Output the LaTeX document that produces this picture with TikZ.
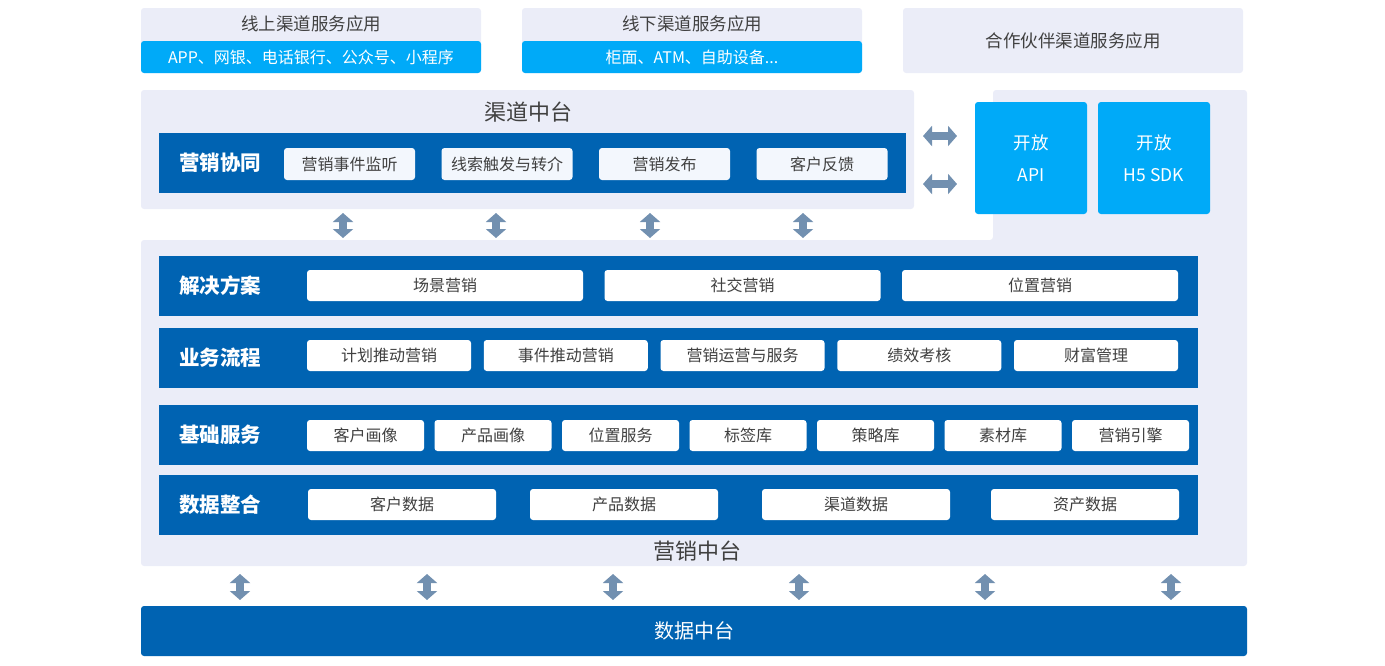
\documentclass[tikz,border=0pt]{standalone}
\usepackage{fontspec}
\setmainfont{Noto Sans CJK SC}
\usepackage{xcolor}
\usepackage{tikz}
\usetikzlibrary{calc, arrows.meta, positioning}
\definecolor{lavender}{HTML}{EBEDF8}
\definecolor{skyblue}{HTML}{00AAF8}
\definecolor{deepblue}{HTML}{0063B2}
\definecolor{arrowgray}{HTML}{7290B0}
\definecolor{txtgray}{HTML}{404040}
\definecolor{paleblue}{HTML}{F3F7FD}
\tikzset{
	x=1pt,
	y=-1pt,
	line width=.75pt,
	panel/.style={
		fill=lavender,
		rounded corners=3pt,
		inner sep=0pt,
		outer sep=0pt
	},
	band/.style={
		fill=deepblue,
		inner sep=0pt,
		outer sep=0pt,
		minimum width=1039pt,
		minimum height=60pt
	},
	tag/.style={
		text=white,
		font=\fontsize{20.5pt}{24pt}\selectfont\bfseries
	},
	cell/.style={
		fill=white,
		rounded corners=3pt,
		inner sep=0pt,
		outer sep=0pt,
		minimum height=31pt,
		text=txtgray,
		font=\fontsize{16pt}{19pt}\selectfont
	},
	caption/.style={
		text=txtgray,
		font=\fontsize{17.5pt}{21pt}\selectfont
	},
	sub/.style={
		text=white,
		font=\fontsize{16pt}{19pt}\selectfont
	},
	heading/.style={
		text=txtgray,
		font=\fontsize{22pt}{26pt}\selectfont
	},
	openbox/.style={
		fill=skyblue,
		rounded corners=3pt,
		inner sep=0pt,
		outer sep=0pt,
		minimum width=112pt,
		minimum height=112pt,
		text=white,
		align=center,
		font=\fontsize{17.5pt}{32pt}\selectfont
	},
	link/.style={
		arrowgray,
		line width=8pt,
		{Triangle[width=20pt,length=9pt]}-{Triangle[width=20pt,length=9pt]}
	}
}

\begin{document}
\begin{tikzpicture}
		\useasboundingbox (0,0) rectangle (1385,665);

		\node[panel, minimum width=340pt, minimum height=65pt] (on) at (311,40.5) {};
		\node[panel, fill=skyblue, minimum width=340pt, minimum height=32pt] (onb) at (311,57) {};
		\node[caption] (ont) at (311,24) {线上渠道服务应用};
		\node[sub] (onc) at (onb) {APP、网银、电话银行、公众号、小程序};

		\node[panel, minimum width=340pt, minimum height=65pt] (off) at (692,40.5) {};
		\node[panel, fill=skyblue, minimum width=340pt, minimum height=32pt] (offb) at (692,57) {};
		\node[caption] (offt) at (692,24) {线下渠道服务应用};
		\node[sub] (offc) at (offb) {柜面、ATM、自助设备...};

		\node[panel, minimum width=340pt, minimum height=65pt] (pt) at (1073,40.5) {};
		\node[caption] (ptt) at (pt) {合作伙伴渠道服务应用};

		\node[panel, minimum width=773pt, minimum height=119pt] (qd) at (527.5,149.5) {};
		\node[heading] (qdt) at (528,112) {渠道中台};
		\node[band, minimum width=747pt] (xt) at (532.5,163) {};
		\node[tag] (xtt) at (220,163) {营销协同};
		\node[cell, fill=paleblue, minimum width=131pt, minimum height=32pt] (x1) at (349.5,164) {营销事件监听};
		\node[cell, fill=paleblue, minimum width=131pt, minimum height=32pt, right=26.5pt of x1] (x2) {线索触发与转介};
		\node[cell, fill=paleblue, minimum width=131pt, minimum height=32pt, right=26.5pt of x2] (x3) {营销发布};
		\node[cell, fill=paleblue, minimum width=131pt, minimum height=32pt, right=26.5pt of x3] (x4) {客户反馈};

		\fill[lavender, rounded corners=3pt] (141,240) -- (993,240) -- (993,90) -- (1247,90) -- (1247,566) -- (141,566) -- cycle;
		\coordinate (yxtop) at (0,240);
		\coordinate (yxbot) at (0,566);

		\node[openbox] (api) at (1031,158) {开放\\API};
		\node[openbox] (h5) at (1154,158) {开放\\H5 SDK};

		\node[band] (sol) at (678.5,286) {};
		\node[tag] (solt) at (220,286) {解决方案};
		\node[cell, minimum width=276pt] (s1) at (445,285.5) {场景营销};
		\node[cell, minimum width=276pt, right=21.5pt of s1] (s2) {社交营销};
		\node[cell, minimum width=276pt, right=21.5pt of s2] (s3) {位置营销};

		\node[band] (flow) at (678.5,358) {};
		\node[tag] (flowt) at (220,358) {业务流程};
		\node[cell, minimum width=164pt] (f1) at (389,355.5) {计划推动营销};
		\node[cell, minimum width=164pt, right=12.75pt of f1] (f2) {事件推动营销};
		\node[cell, minimum width=164pt, right=12.75pt of f2] (f3) {营销运营与服务};
		\node[cell, minimum width=164pt, right=12.75pt of f3] (f4) {绩效考核};
		\node[cell, minimum width=164pt, right=12.75pt of f4] (f5) {财富管理};

		\node[band] (base) at (678.5,435) {};
		\node[tag] (baset) at (220,435) {基础服务};
		\node[cell, minimum width=117pt] (b1) at (365.5,435.5) {客户画像};
		\node[cell, minimum width=117pt, right=10.5pt of b1] (b2) {产品画像};
		\node[cell, minimum width=117pt, right=10.5pt of b2] (b3) {位置服务};
		\node[cell, minimum width=117pt, right=10.5pt of b3] (b4) {标签库};
		\node[cell, minimum width=117pt, right=10.5pt of b4] (b5) {策略库};
		\node[cell, minimum width=117pt, right=10.5pt of b5] (b6) {素材库};
		\node[cell, minimum width=117pt, right=10.5pt of b6] (b7) {营销引擎};

		\node[band] (data) at (678.5,505) {};
		\node[tag] (datat) at (220,505) {数据整合};
		\node[cell, minimum width=188pt] (d1) at (402,504.5) {客户数据};
		\node[cell, minimum width=188pt] (d2) at (624,504.5) {产品数据};
		\node[cell, minimum width=188pt] (d3) at (856,504.5) {渠道数据};
		\node[cell, minimum width=188pt] (d4) at (1085,504.5) {资产数据};

		\node[heading] (yxt) at (697,551) {营销中台};

		\node[panel, fill=deepblue, minimum width=1106pt, minimum height=50pt, text=white, font=\fontsize{20pt}{24pt}\selectfont] (dz) at (694,631) {数据中台};

		\draw[link, shorten <=4pt, shorten >=2pt] (343,0 |- qd.south) -- (343,0 |- yxtop);
		\draw[link, shorten <=4pt, shorten >=2pt] (496,0 |- qd.south) -- (496,0 |- yxtop);
		\draw[link, shorten <=4pt, shorten >=2pt] (650,0 |- qd.south) -- (650,0 |- yxtop);
		\draw[link, shorten <=4pt, shorten >=2pt] (803,0 |- qd.south) -- (803,0 |- yxtop);

		\draw[link, shorten <=9pt, shorten >=18pt] (qd.east |- 0,136) -- (api.west |- 0,136);
		\draw[link, shorten <=9pt, shorten >=18pt] (qd.east |- 0,184) -- (api.west |- 0,184);

		\draw[link, shorten <=8pt, shorten >=6pt] (240,0 |- yxbot) -- (240,0 |- dz.north);
		\draw[link, shorten <=8pt, shorten >=6pt] (427,0 |- yxbot) -- (427,0 |- dz.north);
		\draw[link, shorten <=8pt, shorten >=6pt] (613,0 |- yxbot) -- (613,0 |- dz.north);
		\draw[link, shorten <=8pt, shorten >=6pt] (799,0 |- yxbot) -- (799,0 |- dz.north);
		\draw[link, shorten <=8pt, shorten >=6pt] (985,0 |- yxbot) -- (985,0 |- dz.north);
		\draw[link, shorten <=8pt, shorten >=6pt] (1171,0 |- yxbot) -- (1171,0 |- dz.north);
	\end{tikzpicture}
\end{document}
